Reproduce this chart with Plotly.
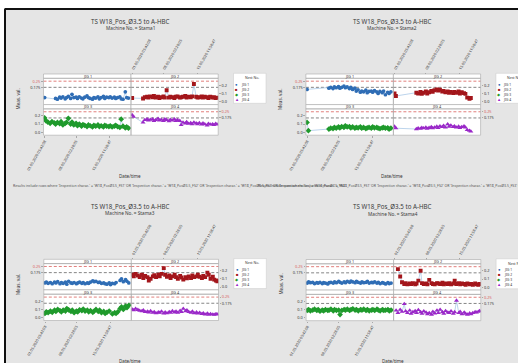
import plotly.graph_objects as go

W, H = 518, 363
N = None

# ---------------- data ----------------
T = [0.2, 0.5, 0.9, 1.4, 1.8, 2.3, 2.6, 3.0, 3.5, 3.8,
     4.2, 4.7, 5.0, 5.4, 5.9, 6.2, 6.6, 7.1, 7.4, 7.8,
     8.3, 8.6, 9.0, 9.5, 9.8, 10.2, 10.7, 11.0, 11.4, 11.9,
     12.2, 12.6, 13.1, 13.4, 13.8, 14.3, 14.6, 15.0, 15.5, 15.8,
     16.2, 16.7, 17.0, 17.4, 17.9, 18.2, 18.6, 18.9]
TICK_DAYS = [0.24, 7.10, 14.50]
TICK_TEXT = ["01.05.2020 05:42:08", "08.05.2020 02:28:05", "15.05.2020 11:58:47"]
MACHINES = ["Stama1", "Stama2", "Stama3", "Stama4"]
JIG_NAMES = ["JIG 1", "JIG 2", "JIG 3", "JIG 4"]
LIMIT_UPPER = 0.25
LIMIT_WARN = 0.175
Y_TICKS = [0.0, 0.1, 0.2]

stama1_jig1 = [0.05, N, N, N, N, N, 0.04, 0.03, 0.055, 0.045,
               0.06, 0.035, 0.05, 0.065, 0.04, 0.09, 0.05, 0.055, 0.04, 0.06,
               0.045, 0.035, 0.055, 0.07, 0.05, 0.04, 0.03, 0.05, 0.045, 0.06,
               0.035, 0.05, 0.065, 0.04, 0.055, 0.05, 0.06, 0.045, 0.055, 0.04,
               0.05, 0.06, 0.035, 0.03, 0.12, 0.05, 0.045, N]
stama1_jig2 = [0.045, N, N, N, N, N, 0.04, 0.055, 0.06, 0.05,
               0.065, 0.055, 0.07, 0.05, 0.06, 0.045, 0.055, 0.065, 0.05, 0.14,
               0.05, 0.06, 0.055, 0.045, 0.06, 0.065, 0.05, 0.055, 0.06, 0.07,
               0.05, 0.06, 0.055, 0.065, 0.215, 0.06, 0.05, 0.055, 0.065, 0.05,
               0.06, 0.055, 0.045, 0.06, 0.05, 0.055, 0.045, 0.05]
stama1_jig3 = [0.175, 0.14, 0.125, 0.11, 0.13, 0.115, 0.10, 0.12, 0.105, 0.13,
               0.09, 0.11, 0.12, 0.17, 0.10, 0.125, 0.09, 0.11, 0.08, 0.10,
               0.075, 0.095, 0.085, 0.07, 0.09, 0.08, 0.065, 0.085, 0.075, 0.09,
               0.07, 0.08, 0.065, 0.085, 0.075, 0.07, 0.08, 0.065, 0.075, 0.085,
               0.07, 0.06, 0.16, 0.075, 0.055, 0.065, 0.05, N]
stama1_jig4 = [0.21, 0.19, N, N, N, N, 0.12, 0.15, 0.16, 0.145,
               0.155, 0.16, 0.14, 0.15, 0.165, 0.145, 0.155, 0.14, 0.16, 0.15,
               0.135, 0.155, 0.145, 0.16, 0.14, 0.15, 0.14, 0.09, 0.12, 0.11,
               0.125, 0.105, 0.115, 0.10, 0.12, 0.11, 0.10, 0.115, 0.095, 0.11,
               0.10, 0.085, 0.105, 0.095, 0.10, 0.09, 0.105, 0.095]

stama2_jig1 = [0.15, N, N, N, N, N, N, N, N, N,
               N, N, 0.165, 0.175, 0.16, 0.18, 0.17, 0.185, 0.165, 0.175,
               0.19, 0.17, 0.18, 0.16, 0.175, 0.15, 0.165, 0.13, 0.145, 0.115,
               0.13, 0.12, 0.14, 0.11, 0.125, 0.13, 0.115, 0.135, 0.12, 0.10,
               0.125, 0.11, 0.13, 0.085, 0.115, 0.10, 0.12, N]
stama2_jig2 = [0.10, 0.07, N, N, N, N, N, N, N, N,
               N, N, 0.11, 0.10, 0.12, 0.095, 0.11, 0.125, 0.10, 0.115,
               0.13, 0.12, 0.14, 0.15, 0.135, 0.145, 0.125, 0.13, 0.115, 0.125,
               0.11, 0.12, 0.105, 0.12, 0.11, 0.125, 0.10, 0.115, 0.105, 0.095,
               0.05, 0.035, 0.045, N, N, N, N, N]
stama2_jig3 = [0.12, 0.02, N, N, N, N, N, N, N, N,
               N, N, 0.04, 0.05, 0.045, 0.06, 0.05, 0.065, 0.055, 0.07,
               0.06, 0.08, 0.065, 0.07, 0.055, 0.065, 0.05, 0.06, 0.055, 0.065,
               0.05, 0.06, 0.045, 0.055, 0.06, 0.05, 0.065, 0.055, 0.06, 0.05,
               0.045, 0.055, 0.06, 0.05, 0.055, 0.04, 0.05, N]
stama2_jig4 = [0.07, 0.05, N, N, N, N, N, N, N, N,
               N, N, 0.04, 0.05, 0.045, 0.055, 0.05, 0.06, 0.045, 0.055,
               0.065, 0.05, 0.06, 0.07, 0.055, 0.075, 0.065, 0.08, 0.06, 0.10,
               0.07, 0.085, 0.065, 0.075, 0.06, 0.07, 0.055, 0.065, 0.075, 0.06,
               0.03, 0.02, 0.01, N, N, N, N, N]

stama3_jig1 = [0.05, 0.06, 0.045, 0.055, 0.04, 0.06, 0.05, 0.065, 0.04, 0.055,
               0.045, 0.06, 0.035, 0.07, 0.05, 0.045, 0.055, 0.04, 0.05, 0.06,
               0.045, 0.055, 0.04, 0.05, 0.045, 0.06, 0.075, 0.065, 0.07, 0.055,
               0.06, 0.045, 0.05, 0.04, 0.035, 0.05, 0.03, 0.045, 0.04, 0.055,
               N, 0.08, 0.10, 0.065, 0.09, 0.07, 0.05, N]
stama3_jig2 = [0.15, 0.13, 0.16, 0.14, 0.12, 0.15, 0.11, 0.135, 0.12, 0.08,
               0.10, 0.13, 0.145, 0.12, 0.15, 0.13, 0.16, 0.23, 0.15, 0.125,
               0.14, 0.11, 0.13, 0.15, 0.12, 0.10, 0.135, 0.115, 0.09, 0.12,
               0.105, 0.13, 0.11, 0.14, 0.12, 0.13, 0.15, 0.125, 0.11, 0.135,
               0.12, 0.175, 0.15, 0.10, 0.125, 0.09, 0.08, 0.07]
stama3_jig3 = [0.05, 0.07, 0.06, 0.08, 0.065, 0.09, 0.075, 0.10, 0.085, 0.07,
               0.09, 0.08, 0.11, 0.095, 0.075, 0.09, 0.06, 0.08, 0.07, 0.095,
               0.085, 0.105, 0.08, 0.09, 0.07, 0.085, 0.065, 0.08, 0.10, 0.075,
               0.09, 0.06, 0.075, 0.05, 0.065, 0.08, N, 0.045, 0.06, 0.05,
               0.07, 0.11, 0.13, 0.10, 0.14, 0.12, 0.15, N]
stama3_jig4 = [0.10, 0.09, 0.11, 0.095, 0.085, 0.08, 0.09, 0.07, 0.075, 0.065,
               0.08, 0.06, 0.07, 0.055, 0.065, 0.06, 0.075, 0.05, 0.065, 0.055,
               0.07, 0.06, 0.08, 0.065, 0.075, 0.06, 0.085, 0.07, 0.11, 0.08,
               0.09, 0.07, 0.06, 0.075, 0.055, 0.065, 0.05, 0.06, 0.045, 0.055,
               0.04, 0.05, 0.035, 0.045, 0.04, 0.035, 0.045, 0.04]

stama4_jig1 = [0.05, 0.065, 0.055, 0.06, 0.045, 0.055, 0.05, 0.06, 0.045, 0.055,
               0.05, 0.04, 0.055, 0.06, 0.05, 0.065, 0.055, 0.07, 0.06, 0.05,
               0.065, 0.055, 0.07, 0.06, 0.075, 0.065, 0.055, 0.07, 0.06, 0.05,
               0.065, 0.055, 0.06, 0.07, 0.05, 0.06, 0.055, 0.065, 0.05, 0.06,
               0.045, 0.055, 0.05, 0.04, 0.055, 0.045, 0.05, N]
stama4_jig2 = [N, N, 0.22, 0.13, 0.06, 0.04, 0.05, 0.035, 0.045, 0.04,
               0.05, 0.035, 0.045, 0.08, 0.20, 0.05, 0.04, 0.045, 0.035, 0.09,
               0.05, 0.04, 0.035, 0.05, 0.045, 0.04, 0.055, 0.035, 0.045, 0.04,
               0.05, 0.035, 0.045, 0.08, 0.04, 0.05, 0.035, 0.045, 0.04, 0.03,
               0.045, 0.035, 0.04, 0.03, 0.045, 0.035, 0.03, 0.04]
stama4_jig3 = [0.09, 0.10, 0.085, 0.095, 0.105, 0.09, 0.10, 0.08, 0.095, 0.085,
               0.10, 0.09, 0.095, 0.105, 0.085, 0.10, 0.09, 0.095, 0.04, 0.09,
               0.10, 0.095, 0.105, 0.09, 0.10, 0.11, 0.095, 0.10, 0.085, 0.10,
               0.095, 0.105, 0.09, 0.10, 0.085, 0.095, 0.10, 0.09, 0.105, 0.095,
               0.085, 0.10, 0.09, 0.095, 0.10, 0.085, 0.095, N]
stama4_jig4 = [N, 0.09, 0.06, 0.10, 0.075, 0.17, 0.08, 0.06, 0.09, 0.05,
               0.07, 0.085, 0.06, 0.095, 0.07, 0.05, 0.08, 0.065, 0.045, 0.06,
               0.04, 0.075, 0.055, 0.09, 0.06, 0.10, 0.07, 0.05, 0.085, 0.065,
               0.06, 0.08, 0.05, 0.07, 0.21, 0.06, 0.075, 0.045, 0.065, 0.05,
               0.04, 0.055, 0.045, 0.06, 0.07, 0.065, 0.075, 0.085]

SERIES = {
    "Stama1": [stama1_jig1, stama1_jig2, stama1_jig3, stama1_jig4],
    "Stama2": [stama2_jig1, stama2_jig2, stama2_jig3, stama2_jig4],
    "Stama3": [stama3_jig1, stama3_jig2, stama3_jig3, stama3_jig4],
    "Stama4": [stama4_jig1, stama4_jig2, stama4_jig3, stama4_jig4],
}

TITLE = "TS W18_Pos_\u00d83.5 to A-HBC"
FOOT = ("Results include rows where 'Inspection charac.' = 'W18_Pos\u00d83.5_FS1' OR "
        "'Inspection charac.' = 'W18_Pos\u00d83.5_FS2' OR 'Inspection charac.' = "
        "'W18_Pos\u00d83.5_FS3' OR 'Inspection charac.' = 'W18_Pos\u00d83.5_FS4'.")

# ---------------- styling ----------------
COLORS = ["#2f6db5", "#a3161b", "#1f9a2c", "#9a28c8"]
SYMBOLS = ["circle", "square", "diamond", "triangle-up"]
SIZES = [3.7, 3.9, 4.4, 4.4]
LEG_CHARS = ["\u25cf", "\u25a0", "\u25c6", "\u25b2"]
CONNECT = "#9fc2e4"
RED_REF = "#d9605c"
GREY_REF = "#666666"
FRAME = "#a8a8a8"
FONT = "Noto Sans"

OFFSETS = [(0.0, 0.0), (262.4, 0.0), (0.3, 185.3), (262.6, 185.5)]
BOX_L, BOX_M, BOX_R = 43.5, 131.0, 218.2
BOX_T, BOX_B = 74.0, 135.2
STRIP = 4.3
XR = [-0.05, 19.15]
YR = [-0.035, 0.285]
LEG_Y = [84.0, 89.0, 94.2, 99.4]


def fx(p):
    return p / W


def fy(p):
    return 1 - p / H


fig = go.Figure()
layout = {}
shapes = []
annotations = []


def note(x, y, text, size, color="#333333", xanchor="center", angle=0):
    annotations.append(dict(x=fx(x), y=fy(y), xref="paper", yref="paper", text=text,
                            showarrow=False, xanchor=xanchor, yanchor="middle",
                            textangle=angle, borderpad=0,
                            font=dict(size=size, color=color, family=FONT)))


# page decorations: white strips and black frame
shapes.append(dict(type="rect", xref="paper", yref="paper", x0=0, x1=1, y0=fy(9), y1=1,
                   fillcolor="white", line_width=0, layer="below"))
shapes.append(dict(type="rect", xref="paper", yref="paper", x0=0, x1=fx(4.5), y0=0, y1=1,
                   fillcolor="white", line_width=0, layer="below"))
shapes.append(dict(type="line", xref="paper", yref="paper", x0=fx(4.5), x1=1.01, y0=fy(9), y1=fy(9),
                   line=dict(color="#111111", width=2)))
shapes.append(dict(type="line", xref="paper", yref="paper", x0=fx(5), x1=fx(5), y0=-0.01, y1=fy(9),
                   line=dict(color="#111111", width=2)))

rh = (BOX_B - BOX_T) / 2
for m, name in enumerate(MACHINES):
    ox, oy = OFFSETS[m]
    for j in range(4):
        r, c = divmod(j, 2)
        k = m * 4 + j + 1
        xn = "x" if k == 1 else f"x{k}"
        yn = "y" if k == 1 else f"y{k}"
        xa = "xaxis" if k == 1 else f"xaxis{k}"
        ya = "yaxis" if k == 1 else f"yaxis{k}"
        left = ox + (BOX_L if c == 0 else BOX_M)
        right = ox + (BOX_M if c == 0 else BOX_R)
        top = oy + BOX_T + r * rh
        dtop = top + STRIP
        dbot = top + rh

        xax = dict(domain=[fx(left), fx(right)], range=XR, showgrid=False, zeroline=False,
                   showline=False, fixedrange=True, anchor=yn, automargin=False)
        if j == 1:
            xax.update(side="top", anchor="free", position=fy(top), tickvals=TICK_DAYS,
                       ticktext=TICK_TEXT, tickangle=-60, ticks="outside", ticklen=1.5,
                       tickcolor=FRAME, tickwidth=0.6,
                       tickfont=dict(size=3.7, color="#333333", family=FONT))
        elif j == 2:
            xax.update(side="bottom", tickvals=TICK_DAYS, ticktext=TICK_TEXT, tickangle=-60,
                       ticks="outside", ticklen=1.5, tickcolor=FRAME, tickwidth=0.6,
                       tickfont=dict(size=3.7, color="#333333", family=FONT))
        else:
            xax.update(showticklabels=False, ticks="")
        layout[xa] = xax

        yax = dict(domain=[fy(dbot), fy(dtop)], range=YR, anchor=xn, showgrid=False,
                   zeroline=False, showline=False, fixedrange=True, ticks="outside",
                   ticklen=1.5, tickcolor=FRAME, tickwidth=0.6, automargin=False,
                   tickfont=dict(size=3.9, color="#333333", family=FONT))
        if j in (0, 3):
            yax.update(tickvals=[LIMIT_WARN, LIMIT_UPPER],
                       ticktext=[f"{LIMIT_WARN:g}",
                                 f"<span style='color:{RED_REF}'>{LIMIT_UPPER:g}</span>"])
        else:
            yax.update(tickvals=Y_TICKS, ticktext=[f"{v:.1f}" for v in Y_TICKS])
        yax["side"] = "left" if c == 0 else "right"
        layout[ya] = yax

        fig.add_trace(go.Scatter(
            x=T, y=SERIES[name][j], xaxis=xn, yaxis=yn, mode="lines+markers",
            connectgaps=True, line=dict(color=CONNECT, width=0.7),
            marker=dict(color=COLORS[j], symbol=SYMBOLS[j], size=SIZES[j], line_width=0),
            showlegend=False, hoverinfo="skip"))

        # reference lines
        shapes.append(dict(type="line", xref=f"{xn} domain", x0=0, x1=1, yref=yn,
                           y0=LIMIT_UPPER, y1=LIMIT_UPPER, layer="below",
                           line=dict(color=RED_REF, width=0.8, dash="3px,2px")))
        shapes.append(dict(type="line", xref=f"{xn} domain", x0=0, x1=1, yref=yn,
                           y0=LIMIT_WARN, y1=LIMIT_WARN, layer="below",
                           line=dict(color=GREY_REF, width=0.8, dash="3px,2px")))
        # strip and data frame
        shapes.append(dict(type="rect", xref="paper", yref="paper", x0=fx(left), x1=fx(right),
                           y0=fy(dtop), y1=fy(top), fillcolor="white",
                           line=dict(color=FRAME, width=0.6)))
        shapes.append(dict(type="rect", xref="paper", yref="paper", x0=fx(left), x1=fx(right),
                           y0=fy(dbot), y1=fy(dtop), line=dict(color=FRAME, width=0.6)))
        note((left + right) / 2, top + STRIP / 2, JIG_NAMES[j], 3.8)

    # titles and axis titles
    note(ox + 130, oy + 21, TITLE, 6.2, color="#3a3a3a")
    note(ox + 130, oy + 28, f"Machine No. = {name}", 4.7, color="#3a3a3a")
    note(ox + 17.5, oy + 99, "Meas. val.", 4.6, angle=-90)
    note(ox + 130, oy + 175.5, "Date/time", 4.6)

    # legend
    shapes.append(dict(type="rect", xref="paper", yref="paper", x0=fx(ox + 233.5), x1=fx(ox + 266),
                       y0=fy(oy + 103.3), y1=fy(oy + 73.3), fillcolor="white",
                       line=dict(color="#c8c8c8", width=0.5)))
    note(ox + 252, oy + 77.6, "Nest No.", 3.5)
    for j in range(4):
        note(ox + 236.8, oy + LEG_Y[j], LEG_CHARS[j], 4.2, color=COLORS[j])
        note(ox + 240, oy + LEG_Y[j], JIG_NAMES[j], 3.3, xanchor="left")

# footnotes (upper two graphs)
note(12, 186, FOOT, 3.5, color="#505050", xanchor="left")
note(257, 186, FOOT, 3.5, color="#505050", xanchor="left")

fig.update_layout(
    width=W, height=H, margin=dict(l=0, r=0, t=0, b=0, autoexpand=False),
    paper_bgcolor="#e5e5e5", plot_bgcolor="white", showlegend=False,
    shapes=shapes, annotations=annotations, font=dict(family=FONT), **layout)

fig.write_html("out.html", config={"displayModeBar": False},
               post_script="document.body.style.margin='0px';")
